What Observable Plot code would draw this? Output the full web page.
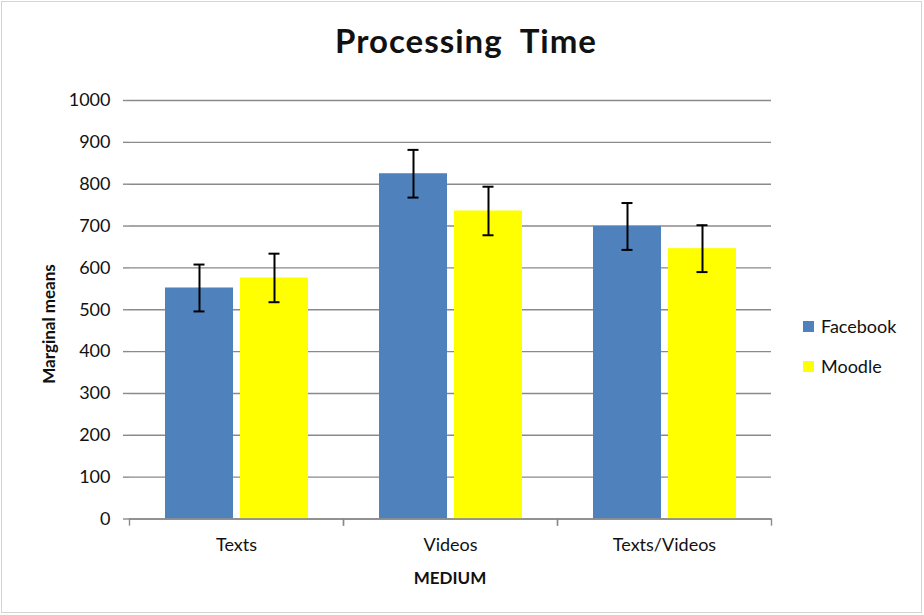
<!DOCTYPE html>
<html>
<head>
<meta charset="utf-8">
<script src="https://cdn.jsdelivr.net/npm/d3@7"></script>
<script src="https://cdn.jsdelivr.net/npm/@observablehq/plot@0.6"></script>
<style>
  body { margin: 0; background: #fff; }
  #wrap { position: relative; width: 924px; height: 615px; overflow: hidden; font-family: Lato, "Open Sans", sans-serif; color: #111; background: #fff; }
  #border { position: absolute; left: 1px; top: 1px; width: 919px; height: 610px; border: 1px solid #d4d4d4; pointer-events: none; }
  #title { position: absolute; left: 0; width: 932px; top: 40px; transform: translateY(-50%); text-align: center; font-size: 33px; letter-spacing: 1px; font-weight: 700; white-space: pre; line-height: 1; }
  #chart { position: absolute; left: 0; top: 75px; }
  #ylabel { position: absolute; left: 48px; top: 324px; transform: translate(-50%, -50%) rotate(-90deg); font-size: 17px; font-weight: 700; white-space: nowrap; }
  #xlabel { position: absolute; left: 450px; top: 577px; transform: translate(-50%, -50%); font-size: 17px; font-weight: 700; }
  #legend { position: absolute; left: 803px; top: 314px; font-size: 18px; }
  .item { display: flex; align-items: center; height: 24px; margin-bottom: 16px; }
  .sw { width: 11px; height: 11px; margin-right: 7px; }
</style>
</head>
<body>
<div id="wrap">
  <div id="title"></div>
  <div id="chart"></div>
  <div id="ylabel"></div>
  <div id="xlabel"></div>
  <div id="legend"></div>
  <div id="border"></div>
</div>
<script>
const titleText = "Processing  Time";
const yLabelText = "Marginal means";
const xLabelText = "MEDIUM";
const categories = ["Texts", "Videos", "Texts/Videos"];
const series = ["Facebook", "Moodle"];
const facebookMeans = [552, 825, 699];
const moodleMeans = [576, 736, 646];
const facebookErr = [56, 57, 56];
const moodleErr = [58, 58, 56];
const yTicks = [0, 100, 200, 300, 400, 500, 600, 700, 800, 900, 1000];
const colors = ["#4F81BD", "#FFFF00"];

const means = {Facebook: facebookMeans, Moodle: moodleMeans};
const errs = {Facebook: facebookErr, Moodle: moodleErr};
const rows = [];
categories.forEach((c, i) => {
  series.forEach(s => {
    rows.push({category: c, series: s, mean: means[s][i], lo: means[s][i] - errs[s][i], hi: means[s][i] + errs[s][i]});
  });
});

const gray = "#8a8a8a";

const chart = Plot.plot({
  width: 924,
  height: 540,
  marginTop: 25,
  marginBottom: 96.5,
  marginLeft: 128,
  marginRight: 153,
  style: {fontFamily: "Lato, 'Open Sans', sans-serif", fontSize: "18px", color: "#111", background: "transparent", overflow: "visible"},
  fx: {domain: categories, paddingInner: 0, paddingOuter: 0, label: null},
  x: {domain: series, paddingInner: 0.1, paddingOuter: 0.47, axis: null},
  y: {domain: [0, 1000], label: null},
  color: {domain: series, range: colors},
  marks: [
    Plot.gridY(yTicks, {stroke: gray, strokeOpacity: 1, strokeWidth: 1.4}),
    Plot.barY(rows, {fx: "category", x: "series", y: "mean", fill: "series"}),
    Plot.ruleX(rows, {fx: "category", x: "series", y1: "lo", y2: "hi", stroke: "#000", strokeWidth: 2}),
    Plot.tickY(rows, {fx: "category", x: "series", y: "hi", insetLeft: 28.5, insetRight: 28.5, stroke: "#000", strokeWidth: 2}),
    Plot.tickY(rows, {fx: "category", x: "series", y: "lo", insetLeft: 28.5, insetRight: 28.5, stroke: "#000", strokeWidth: 2}),
    Plot.ruleY([0], {stroke: gray, strokeWidth: 1.4}),
    Plot.frame({anchor: "left", insetTop: 418.5, insetBottom: -6, stroke: gray, strokeWidth: 1.4}),
    Plot.frame({anchor: "right", insetTop: 418.5, insetBottom: -6, stroke: gray, strokeWidth: 1.4}),
    Plot.axisY(yTicks, {tickSize: 6, tickPadding: 13, tickFormat: d => String(d), line: true, stroke: gray, strokeWidth: 1.4, fill: "#111", fontSize: 18, label: null}),
    Plot.axisFx({anchor: "bottom", tickSize: 0, tickPadding: 19, fill: "#111", fontSize: 18, label: null})
  ]
});
document.getElementById("chart").appendChild(chart);

document.getElementById("title").textContent = titleText;
document.getElementById("ylabel").textContent = yLabelText;
document.getElementById("xlabel").textContent = xLabelText;
const legend = document.getElementById("legend");
series.forEach((s, i) => {
  const item = document.createElement("div");
  item.className = "item";
  const sw = document.createElement("div");
  sw.className = "sw";
  sw.style.background = colors[i];
  const t = document.createElement("span");
  t.textContent = s;
  item.appendChild(sw);
  item.appendChild(t);
  legend.appendChild(item);
});
</script>
</body>
</html>
